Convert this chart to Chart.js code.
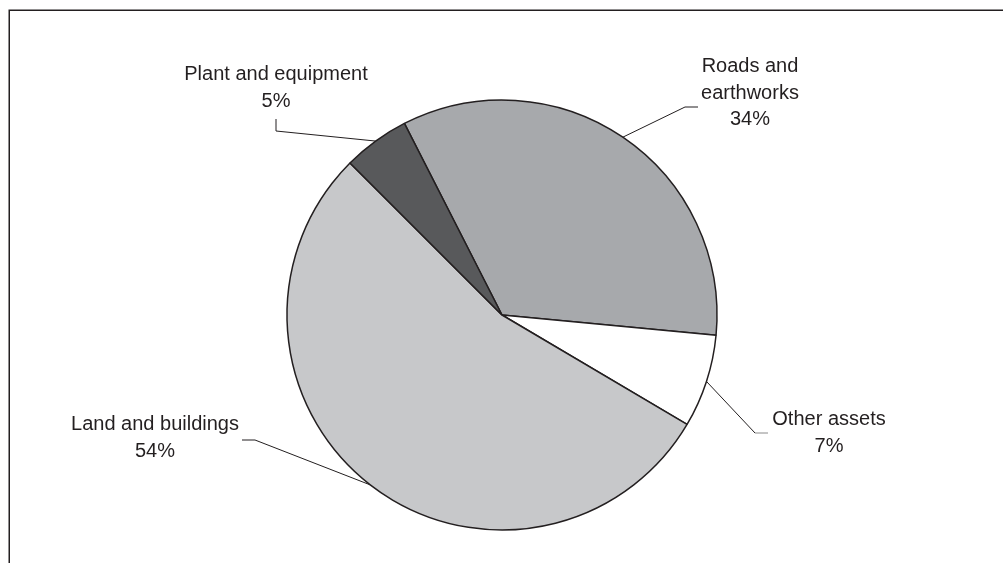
<!DOCTYPE html>
<html>
<head>
<meta charset="utf-8">
<script src="https://cdn.jsdelivr.net/npm/chart.js@4/dist/chart.umd.min.js"></script>
<style>
  html, body { margin: 0; padding: 0; background: #ffffff; }
  #wrap { width: 1003px; height: 563px; position: relative; }
</style>
</head>
<body>
<div id="wrap"><canvas id="chart" width="1003" height="563"></canvas></div>
<script>
// Asset categories, in drawing order (clockwise from the start angle)
const categories = ['Roads and earthworks', 'Other assets', 'Land and buildings', 'Plant and equipment'];
const labelLines = [['Roads and', 'earthworks'], ['Other assets'], ['Land and buildings'], ['Plant and equipment']];
const shares = [34, 7, 54, 5];
const sliceColors = ['#a7a9ac', '#ffffff', '#c7c8ca', '#58595b'];

const TEXT_COLOR = '#231f20';
const LINE_COLOR = '#231f20';
const FONT = '20px "Liberation Sans", Arial, sans-serif';
const LINE_HEIGHT = 26.5;

// Callout layout, relative to the pie centre:
// text = centre of the text block, elbow = where the leader bends, tail = end of the short straight piece
const callouts = [
  { text: [248, -222], elbow: [183, -208], tail: [196, -208] },
  { text: [327, 118],  elbow: [253, 118],  tail: [266, 118], tailColor: '#8a8a8a' },
  { text: [-347, 123], elbow: [-247, 125], tail: [-260, 125] },
  { text: [-226, -227], elbow: [-226, -184], tail: [-226, -196] }
];

// Open frame: top and left rules
const framePlugin = {
  id: 'frame',
  beforeDraw(chart) {
    const ctx = chart.ctx;
    ctx.save();
    ctx.fillStyle = '#ffffff';
    ctx.fillRect(0, 0, chart.width, chart.height);
    ctx.strokeStyle = '#231f20';
    ctx.lineWidth = 1.5;
    ctx.beginPath();
    ctx.moveTo(9.25, chart.height);
    ctx.lineTo(9.25, 10.25);
    ctx.lineTo(chart.width, 10.25);
    ctx.stroke();
    ctx.restore();
  }
};

// Leader lines and two-line labels (name + percentage)
const calloutPlugin = {
  id: 'callouts',
  afterDatasetsDraw(chart) {
    const ctx = chart.ctx;
    const meta = chart.getDatasetMeta(0);
    ctx.save();
    meta.data.forEach((arc, i) => {
      const p = arc.getProps(['x', 'y', 'startAngle', 'endAngle', 'outerRadius'], true);
      const mid = (p.startAngle + p.endAngle) / 2;
      const ax = p.x + p.outerRadius * Math.cos(mid);
      const ay = p.y + p.outerRadius * Math.sin(mid);
      const c = callouts[i];
      const ex = p.x + c.elbow[0], ey = p.y + c.elbow[1];
      const tx = p.x + c.tail[0], ty = p.y + c.tail[1];

      ctx.lineWidth = 1;
      ctx.strokeStyle = LINE_COLOR;
      ctx.beginPath();
      ctx.moveTo(ax, ay);
      ctx.lineTo(ex, ey);
      ctx.stroke();
      ctx.strokeStyle = c.tailColor || LINE_COLOR;
      ctx.beginPath();
      ctx.moveTo(ex, ey);
      ctx.lineTo(tx, ty);
      ctx.stroke();

      const lines = labelLines[i].concat([shares[i] + '%']);
      const cx = p.x + c.text[0];
      const cy = p.y + c.text[1];
      const top = cy - (lines.length - 1) * LINE_HEIGHT / 2;
      ctx.fillStyle = TEXT_COLOR;
      ctx.font = FONT;
      ctx.textAlign = 'center';
      ctx.textBaseline = 'middle';
      lines.forEach((t, k) => ctx.fillText(t, cx, top + k * LINE_HEIGHT));
    });
    ctx.restore();
  }
};

new Chart(document.getElementById('chart'), {
  type: 'pie',
  data: {
    labels: categories,
    datasets: [{
      data: shares,
      backgroundColor: sliceColors,
      borderColor: '#231f20',
      borderWidth: 1.5,
      hoverOffset: 0
    }]
  },
  options: {
    responsive: false,
    animation: false,
    rotation: -27,
    radius: 215,
    layout: { padding: { top: 67, bottom: 0, left: 1, right: 0 } },
    plugins: {
      legend: { display: false },
      tooltip: { enabled: false },
      title: { display: false }
    },
    events: []
  },
  plugins: [framePlugin, calloutPlugin]
});
</script>
</body>
</html>
